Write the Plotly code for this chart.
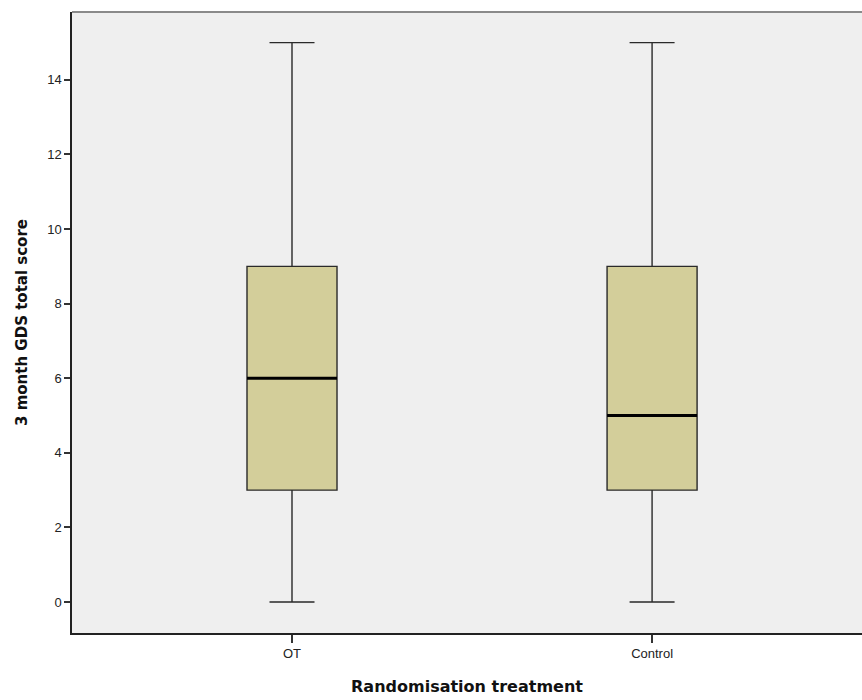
import plotly.graph_objects as go

categories = ["OT", "Control"]
lower_whisker = [0, 0]
q1_values = [3, 3]
medians = [6, 5]
q3_values = [9, 9]
upper_whisker = [15, 15]
y_ticks = [0, 2, 4, 6, 8, 10, 12, 14]

positions = list(range(len(categories)))
box_half = 0.125

fig = go.Figure()
fig.add_trace(go.Box(
    x=positions,
    q1=q1_values, median=medians, q3=q3_values,
    lowerfence=lower_whisker, upperfence=upper_whisker,
    width=2 * box_half, whiskerwidth=0.5,
    fillcolor="#D3CE9A",
    line=dict(color="#2a2a2a", width=1.4),
    boxpoints=False, showlegend=False, hoverinfo="skip",
))
for p, m in zip(positions, medians):
    fig.add_trace(go.Scatter(
        x=[p - box_half, p + box_half], y=[m, m], mode="lines",
        line=dict(color="black", width=3), showlegend=False, hoverinfo="skip",
    ))

fig.add_shape(type="line", xref="paper", yref="paper", x0=0, x1=1, y0=1, y1=1,
              line=dict(color="#8a8a8a", width=2))

fig.update_layout(
    width=862, height=700,
    margin=dict(l=72, r=0, t=12, b=67),
    paper_bgcolor="white", plot_bgcolor="#EFEFEF",
    font=dict(family="Liberation Sans, Arial", color="#222", size=13),
    xaxis=dict(
        range=[-0.611, 1.583], tickmode="array", tickvals=positions, ticktext=categories,
        showgrid=False, zeroline=False, showline=True, linecolor="#222", linewidth=1.5,
        ticks="outside", ticklen=8, tickwidth=1.5, tickcolor="#333",
        title=dict(text="<b>Randomisation treatment</b>",
                   font=dict(family="DejaVu Sans", size=16, color="#111"), standoff=20),
    ),
    yaxis=dict(
        range=[-0.83, 15.82], tickmode="array", tickvals=y_ticks,
        showgrid=False, zeroline=False, showline=True, linecolor="#222", linewidth=1.5,
        ticks="outside", ticklen=6, tickwidth=1.5, tickcolor="#333",
        title=dict(text="<b>3 month GDS total score</b>",
                   font=dict(family="DejaVu Sans", size=15, color="#111"), standoff=16),
    ),
)

fig.write_html("out.html")
